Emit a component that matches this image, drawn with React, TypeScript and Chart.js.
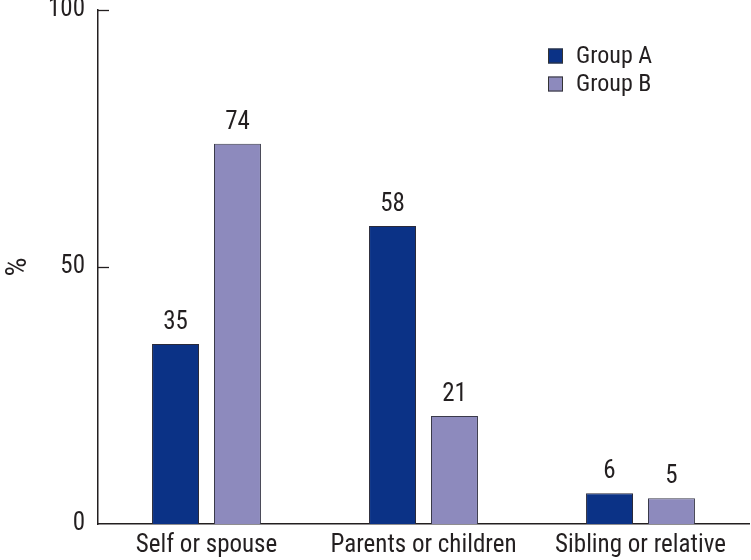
import React, { useEffect, useRef } from "react";
import { Chart, registerables } from "chart.js";

Chart.register(...registerables);

const categories = ["Self or spouse", "Parents or children", "Sibling or relative"];
const groupA = [35, 58, 6];
const groupB = [74, 21, 5];
const seriesNames = ["Group A", "Group B"];
const yTicks = [0, 50, 100];
const yTitle = "%";

const FONT = "'Liberation Sans Narrow', 'Roboto Condensed', 'Liberation Sans', sans-serif";
const TEXT = "#231f20";

const extrasPlugin = {
  id: "extras",
  afterDatasetsDraw(chart: any) {
    const ctx = chart.ctx;
    const y = chart.scales.y;
    const area = chart.chartArea;
    ctx.save();
    // inner tick marks
    ctx.strokeStyle = TEXT;
    ctx.lineWidth = 1.3;
    yTicks.forEach((v) => {
      if (v === 0) return;
      const py = Math.round(y.getPixelForValue(v)) + 0.5;
      ctx.beginPath();
      ctx.moveTo(area.left, py);
      ctx.lineTo(area.left + 11, py);
      ctx.stroke();
    });
    // value labels
    ctx.fillStyle = TEXT;
    ctx.font = `25px ${FONT}`;
    ctx.textAlign = "center";
    ctx.textBaseline = "alphabetic";
    chart.data.datasets.forEach((ds: any, di: number) => {
      const meta = chart.getDatasetMeta(di);
      meta.data.forEach((bar: any, i: number) => {
        ctx.fillText(String(ds.data[i]), bar.x, bar.y - 15);
      });
    });
    // legend
    ctx.font = `24px ${FONT}`;
    ctx.textAlign = "left";
    ctx.textBaseline = "middle";
    chart.data.datasets.forEach((ds: any, di: number) => {
      const cy = 56 + di * 28;
      ctx.fillStyle = ds.backgroundColor;
      ctx.fillRect(548, cy - 7.5, 15, 15);
      ctx.strokeStyle = "#333";
      ctx.lineWidth = 1;
      ctx.strokeRect(548.5, cy - 7, 14, 14);
      ctx.fillStyle = TEXT;
      ctx.fillText(ds.label, 576, cy + 1);
    });
    ctx.restore();
  },
};

export default function App() {
  const ref = useRef<HTMLCanvasElement>(null);
  useEffect(() => {
    document.body.style.margin = "0";
    const chart = new Chart(ref.current!, {
      type: "bar",
      data: {
        labels: categories,
        datasets: [
          {
            label: seriesNames[0],
            data: groupA,
            backgroundColor: "#0b3286",
            borderColor: "#2a2a3a",
            borderWidth: 1,
          },
          {
            label: seriesNames[1],
            data: groupB,
            backgroundColor: "#8d8abd",
            borderColor: "#3a3a4a",
            borderWidth: 1,
          },
        ],
      },
      options: {
        animation: false,
        responsive: false,
        maintainAspectRatio: false,
        layout: { padding: { top: 10, right: 2, left: 0, bottom: 0 } },
        plugins: { legend: { display: false }, tooltip: { enabled: false } },
        datasets: { bar: { categoryPercentage: 0.571, barPercentage: 0.758 } },
        scales: {
          x: {
            grid: { display: false, drawTicks: false },
            border: { display: true, color: TEXT, width: 1.5 },
            ticks: { color: TEXT, font: { family: FONT, size: 25 }, padding: 7, maxRotation: 0 },
            afterFit: (s: any) => {
              s.height = 36;
              s.paddingLeft = 0;
              s.paddingRight = 0;
            },
          },
          y: {
            min: 0,
            max: 100,
            afterBuildTicks: (s: any) => {
              s.ticks = yTicks.map((v) => ({ value: v }));
            },
            grid: { display: false, drawTicks: false },
            border: { display: true, color: TEXT, width: 1.5 },
            ticks: { color: TEXT, font: { family: FONT, size: 25 }, padding: 13 },
            title: { display: true, text: yTitle, color: TEXT, font: { family: FONT, size: 30 }, padding: 0 },
            afterFit: (s: any) => {
              s.width = 98;
              s.paddingTop = 0;
              s.paddingBottom = 0;
            },
          },
        },
      },
      plugins: [extrasPlugin],
    });
    return () => chart.destroy();
  }, []);
  return (
    <div style={{ width: 751, height: 560 }}>
      <canvas ref={ref} width={751} height={560} style={{ display: "block" }} />
    </div>
  );
}
